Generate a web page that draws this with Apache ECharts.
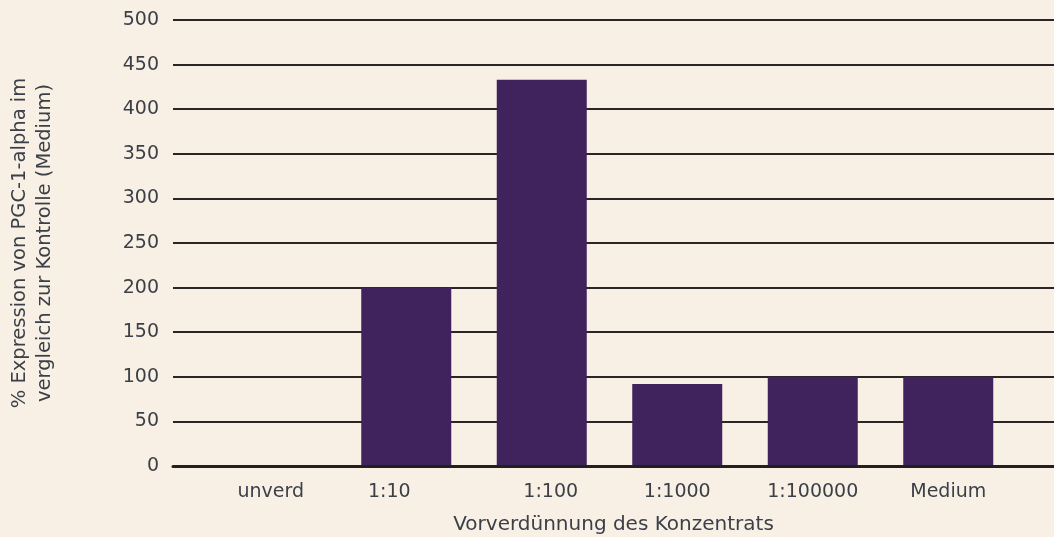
<!DOCTYPE html>
<html>
<head>
<meta charset="utf-8">
<script src="https://cdn.jsdelivr.net/npm/echarts@6/dist/echarts.min.js"></script>
<style>
  html, body { margin: 0; padding: 0; background: #f8f0e4; }
  #chart { width: 1054px; height: 537px; }
</style>
</head>
<body>
<div id="chart"></div>
<script>
// Verdünnungsstufen und relative PGC-1-alpha-Expression (%)
const categories = ['unverd', '1:10', '1:100', '1:1000', '1:100000', 'Medium'];
const expression = [0, 200, 433, 92, 100, 100];
const yTicks = { min: 0, max: 500, step: 50 };
const yName = '% Expression von PGC-1-alpha im\nvergleich zur Kontrolle (Medium)';
const xName = 'Vorverdünnung des Konzentrats';

const textColor = '#3b3f48';
const font = '"DejaVu Sans", sans-serif';

// small per-label nudges for the category labels
const labelShift = { '1:10': 'l', '1:100': 'r' };

const chart = echarts.init(document.getElementById('chart'), null, { renderer: 'canvas' });
chart.setOption({
  backgroundColor: '#f8f0e4',
  animation: false,
  grid: [
    { left: 173, right: 0, top: 20, bottom: 71, outerBoundsMode: 'none', containLabel: false },
    { left: 203, right: 38, top: 20, bottom: 71, outerBoundsMode: 'none', containLabel: false }
  ],
  xAxis: [
    {
      gridIndex: 0, type: 'category', data: categories, z: 10,
      axisLine: { show: true, lineStyle: { color: '#231f20', width: 3 } },
      axisTick: { show: false }, axisLabel: { show: false },
      name: xName, nameLocation: 'middle', nameGap: 49,
      nameTextStyle: { color: textColor, fontFamily: font, fontSize: 20 }
    },
    {
      gridIndex: 1, type: 'category', data: categories,
      axisLine: { show: false }, axisTick: { show: false },
      axisLabel: {
        color: textColor, fontFamily: font, fontSize: 19, margin: 17,
        formatter: v => labelShift[v] ? '{' + labelShift[v] + '|' + v + '}' : v,
        rich: {
          l: { color: textColor, fontFamily: font, fontSize: 19, padding: [0, 34, 0, 0] },
          r: { color: textColor, fontFamily: font, fontSize: 19, padding: [0, 0, 0, 18] }
        }
      }
    }
  ],
  yAxis: [
    {
      gridIndex: 0, type: 'value', min: yTicks.min, max: yTicks.max, interval: yTicks.step,
      axisLine: { show: false }, axisTick: { show: false },
      axisLabel: { color: textColor, fontFamily: font, fontSize: 19, margin: 14 },
      splitLine: { show: true, lineStyle: { color: '#2b2626', width: 2 } },
      name: yName, nameLocation: 'middle', nameGap: 116, nameRotate: 90,
      nameTextStyle: { color: textColor, fontFamily: font, fontSize: 19.5, lineHeight: 25 }
    },
    {
      gridIndex: 1, type: 'value', min: yTicks.min, max: yTicks.max, interval: yTicks.step,
      show: false, splitLine: { show: false }
    }
  ],
  series: [{
    type: 'bar',
    xAxisIndex: 1, yAxisIndex: 1,
    data: expression,
    barWidth: 90,
    z: 5,
    itemStyle: { color: '#40225c' }
  }]
});
</script>
</body>
</html>
